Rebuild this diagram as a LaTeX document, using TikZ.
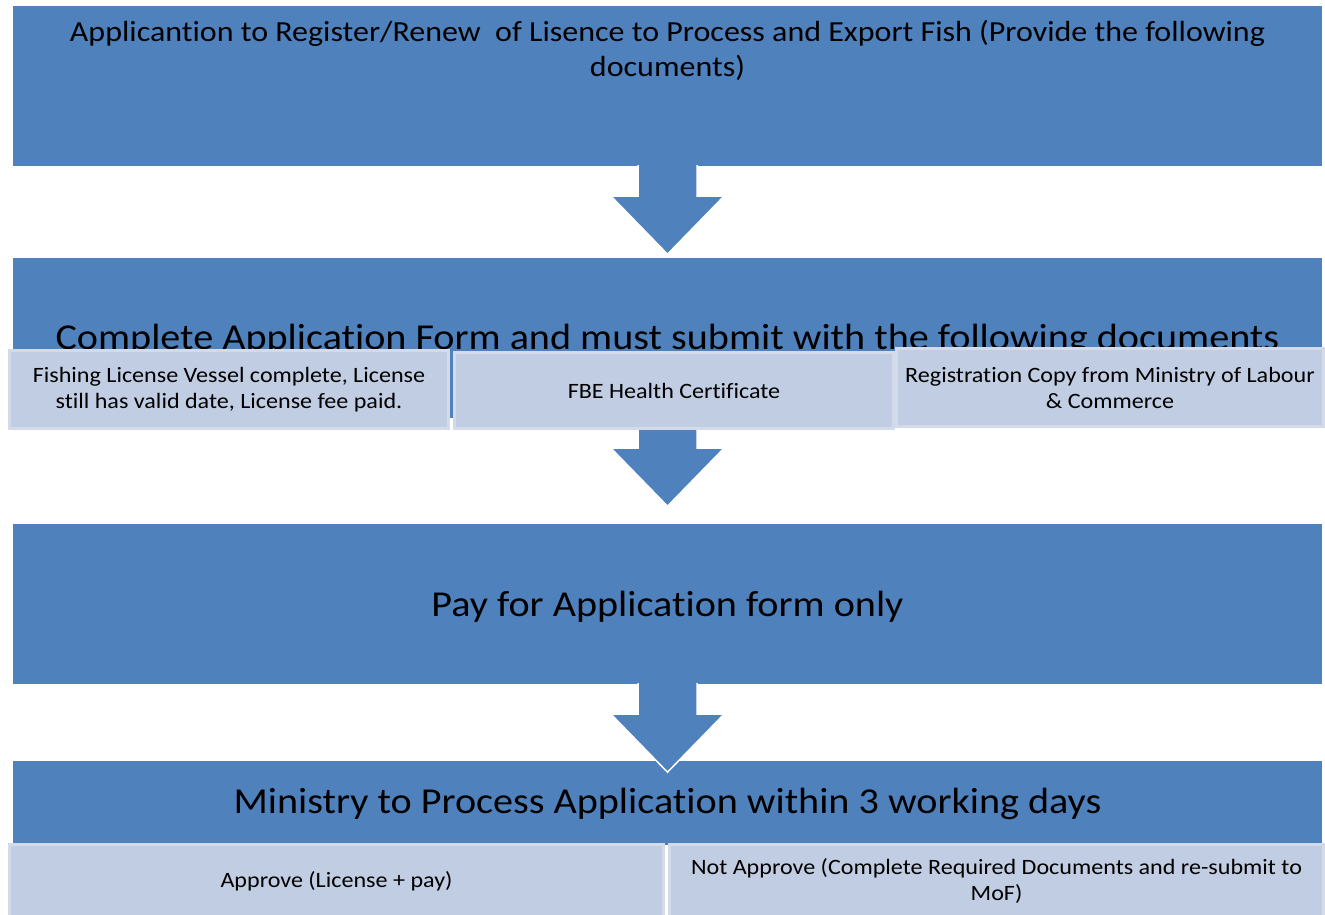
\documentclass[tikz,border=0pt]{standalone}
\usepackage{fontspec}
\setmainfont{Carlito}[FakeStretch=1.1, Ligatures=NoCommon]
\usetikzlibrary{calc}
\definecolor{stepblue}{HTML}{4F81BD}
\definecolor{docfill}{HTML}{C1CDE2}
\definecolor{docline}{HTML}{D3DBEA}
\begin{document}
\begin{tikzpicture}[x=1pt, y=1pt,
  stepbox/.style={fill=stepblue, minimum width=1309pt, inner sep=0pt, align=center},
  docbox/.style={fill=docfill, draw=docline, line width=3pt, inner sep=0pt, align=center,
    font=\fontsize{21.9}{26}\selectfont},
  arrowbody/.style={fill=stepblue, draw=white, line width=1.5pt}]
\useasboundingbox (0,0) rectangle (1325,915);
\node [stepbox, minimum height=160pt] (apply) at (667.5,829) {};
\node [stepbox, minimum height=160pt] (form) at (667.5,577) {};
\node [stepbox, minimum height=160pt] (pay) at (667.5,311) {};
\node [stepbox, minimum height=84pt] (ministry) at (667.5,112) {};
\node [anchor=north, inner sep=0pt, align=center, font=\fontsize{29.1}{35}\selectfont] (applytext) at ($(apply.north)+(0,-14)$)
  {Applicantion to Register/Renew\ \ of Lisence to Process and Export Fish (Provide the following\\documents)};
\node [inner sep=0pt, font=\fontsize{36.5}{44}\selectfont] (formtext) at ($(form.center)+(0,-2)$)
  {Complete Application Form and must submit with the following documents};
\node [inner sep=0pt, font=\fontsize{36.5}{44}\selectfont] (paytext) at ($(pay.center)+(0,-3)$)
  {Pay for Application form only};
\node [inner sep=0pt, font=\fontsize{36.5}{44}\selectfont] (ministrytext) at ($(ministry.center)+(0,-1)$)
  {Ministry to Process Application within 3 working days};
% block arrows between the steps
\foreach \src in {apply,form,pay}
  \draw [arrowbody] ($(\src.south)+(-29.5,1)$) -- ++(0,-31) -- ++(-27,0) -- ++(56.5,-58)
    -- ++(56.5,58) -- ++(-27,0) -- ++(0,31);
\node [docbox, minimum width=439pt, minimum height=78pt] (vessel) at (229,525.5)
  {Fishing License Vessel complete, License\\still has valid date, License fee paid.};
\node [docbox, minimum width=439pt, minimum height=76pt] (health) at (674,524.5) {FBE Health Certificate};
\node [docbox, minimum width=427pt, minimum height=78pt] (labour) at (1110,527.5)
  {Registration Copy from Ministry of Labour\\\& Commerce};
\node [docbox, minimum width=654pt, minimum height=73pt] (approve) at (336.5,34) {Approve (License + pay)};
\node [docbox, minimum width=654pt, minimum height=73pt] (reject) at (996.5,34)
  {Not Approve (Complete Required Documents and re-submit to\\MoF)};
\end{tikzpicture}
\end{document}
